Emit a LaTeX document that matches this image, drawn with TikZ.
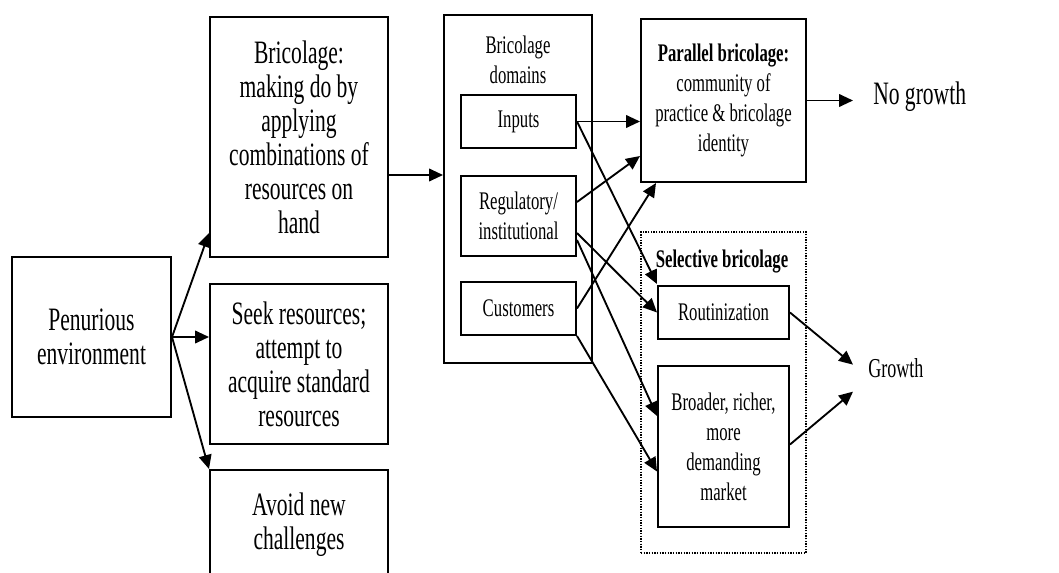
\documentclass[tikz,border=0pt]{standalone}
\usepackage{fontspec}
\setmainfont{Liberation Serif}[FakeStretch=0.66]
\usetikzlibrary{arrows.meta,calc}
\newcommand\BigTxt{\fontsize{24.5}{25.5}\selectfont}
\newcommand\SmTxt{\fontsize{19}{22.5}\selectfont}
\newcommand\GrTxt{\fontsize{20.5}{22}\selectfont}
\begin{document}
\begin{tikzpicture}[x=0.75pt,y=-0.75pt,
  sz/.style 2 args={minimum width=#1*0.75pt, minimum height=#2*0.75pt},
  box/.style={draw, line width=1.5pt, align=center, inner sep=0pt, font=\BigTxt},
  sbox/.style={draw, line width=1.5pt, align=center, inner sep=0pt, font=\SmTxt},
  stext/.style={align=center, inner sep=0pt, font=\SmTxt},
  dotbox/.style={draw, line width=0.9pt, dash pattern=on 1pt off 1pt, inner sep=0pt},
  arr/.style={-{Triangle[length=10.5pt,width=9.5pt]}, line width=1.4pt}]
\clip (0,0) rectangle (1059,573);
\fill[white] (0,0) rectangle (1059,573);
% left column
\node[box, sz={159}{160}] (pen) at (91.5,337) {Penurious\\environment};
\node[box, sz={178}{240}] (bric) at (299,137) {Bricolage:\\making do by\\applying\\combinations of\\resources on\\hand};
\node[box, sz={178}{160}] (seek) at (299,364) {Seek resources;\\attempt to\\acquire standard\\resources};
\node[box, sz={178}{110}] (avoid) at (299,525) {Avoid new\\challenges};
% domains
\node[sbox, sz={148}{348}] (dom) at (518,189) {};
\node[stext] (domt) at (518,60) {Bricolage\\domains};
\node[sbox, sz={115}{53}] (inp) at (518.5,121.5) {Inputs};
\node[sbox, sz={115}{80}] (reg) at (518.5,216) {Regulatory/\\institutional};
\node[sbox, sz={115}{53}] (cus) at (518.5,308.5) {Customers};
% outcomes
\node[sbox, sz={165}{163}] (par) at (723.5,100.5) {\textbf{Parallel bricolage:}\\community of\\practice \& bricolage\\identity};
\node[dotbox, sz={165}{321}] (sel) at (723.5,392.5) {};
\node[stext, font=\SmTxt\bfseries] (selt) at (722,262) {Selective bricolage};
\node[sbox, sz={131}{53}] (rout) at (723.5,312.5) {Routinization};
\node[sbox, sz={131}{161}] (broad) at (723.5,446.5) {Broader, richer,\\more\\demanding\\market};
\node[anchor=base west, font=\BigTxt, inner sep=0pt] (nog) at (873,105) {No growth};
\node[anchor=base west, font=\GrTxt, inner sep=0pt] (gro) at (868,377) {Growth};
% helper coordinates
\coordinate (y175) at (0,175);
\coordinate (nogtip) at ($(nog.west)+(-20,0)$);
% arrows
\draw[arr] (pen.east) -- ($(bric.south west)+(0,-25)$);
\draw[arr] (pen.east) -- (pen.east -| seek.west);
\draw[arr] (pen.east) -- (avoid.north west);
\draw[arr] (bric.east |- y175) -- (dom.west |- y175);
\draw[arr] (inp.east) -- (inp.east -| par.west);
\draw[arr] (inp.east) -- ($(rout.north west)+(0,-1)$);
\draw[arr] ($(reg.east)+(0,-14)$) -- ($(par.south west)+(0,-27)$);
\draw[arr] ($(reg.east)+(0,17)$) -- (rout.west);
\draw[arr] ($(reg.east)+(0,24)$) -- ($(broad.north west)+(0,51)$);
\draw[arr] (cus.east) -- ($(par.south west)+(16,0)$);
\draw[arr] (cus.south east) -- ($(broad.west)+(0,25)$);
\draw[arr] (par.east) -- (par.east -| nogtip);
\draw[arr] (rout.east) -- ($(gro.west)+(-15,-3)$);
\draw[arr] ($(broad.east)+(0,-2)$) -- ($(gro.west)+(-15,24)$);
\end{tikzpicture}
\end{document}
